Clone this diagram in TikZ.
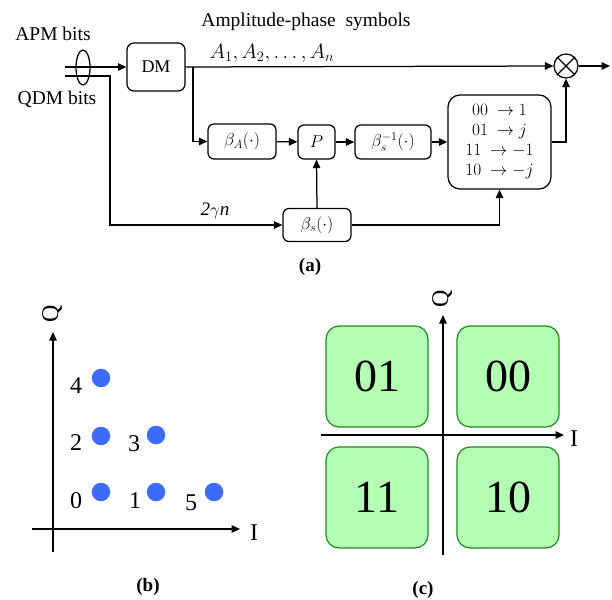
\documentclass[tikz,border=0pt]{standalone}
\usepackage{fontspec}
\setmainfont{Liberation Serif}
\usetikzlibrary{arrows.meta,shapes.geometric}
\definecolor{dotblue}{RGB}{59,107,255}
\definecolor{qfill}{RGB}{181,255,181}
\definecolor{qedge}{RGB}{26,140,26}
\tikzset{
  blk/.style={draw,rounded corners=6pt,line width=1.25pt,inner sep=0pt,font=\fontsize{18}{20}\selectfont},
  arr/.style={-{Triangle[length=8.5pt,width=7.5pt]},line width=1.25pt},
  ln/.style={line width=1.25pt},
  lbl/.style={font=\fontsize{19.5}{21}\selectfont,inner sep=0pt},
  dig/.style={font=\fontsize{24}{26}\selectfont,inner sep=0pt},
  qbox/.style={draw=qedge,fill=qfill,line width=1.2pt,rounded corners=13pt,minimum width=102pt,minimum height=101pt,inner sep=0pt,font=\fontsize{46}{48}\selectfont},
  dot/.style={circle,fill=dotblue,minimum size=18.5pt,inner sep=0pt},
  subcap/.style={font=\bfseries\fontsize{19}{21}\selectfont,inner sep=0pt},
}
\begin{document}
\begin{tikzpicture}[x=1pt,y=-1pt]
\useasboundingbox (0,0) rectangle (612,599);
% ---- (a) ----
\node[lbl] (apm) at (53,34) {APM bits};
\node[lbl] (qdm) at (57,99) {QDM bits};
\node[lbl] (amp) at (306,22) {Amplitude-phase\ \ symbols};
\node[blk,minimum width=58pt,minimum height=48pt,rounded corners=7pt] (dm) at (156,67) {DM};
\node[blk,minimum width=68pt,minimum height=35pt] (bA) at (242,141.5) {$\beta_A(\cdot)$};
\node[blk,minimum width=37pt,minimum height=34pt] (P) at (316.5,142) {$P$};
\node[blk,minimum width=76pt,minimum height=34pt] (bsi) at (393,142) {$\beta_s^{-1}(\cdot)$};
\node[blk,minimum width=103pt,minimum height=94pt,rounded corners=12pt,align=center,font=\fontsize{16.5}{20}\selectfont] (map) at (499.5,142)
  {$00\ \rightarrow 1$\\ $01\ \rightarrow j$\\ $11\ \rightarrow \mathbf{-}1$\\ $10\ \rightarrow \mathbf{-}j$};
\node[blk,minimum width=68pt,minimum height=33pt] (bs) at (317,225) {$\beta_s(\cdot)$};
\node[draw,circle,line width=1.25pt,minimum size=24pt,inner sep=0pt] (mult) at (566,66) {};
\draw[ln] (mult.45) -- (mult.225) (mult.135) -- (mult.315);
\node[font=\fontsize{19.5}{21}\selectfont,inner sep=0pt] (alab) at (272,53) {$A_1, A_2, \ldots, A_n$};
\node[font=\itshape\fontsize{19}{21}\selectfont,inner sep=0pt] (gam) at (215,211) {2$\gamma$n};
\node[subcap] (capa) at (310,267) {(a)};
\draw[line width=1.25pt] (83,67.5) ellipse [x radius=7, y radius=17.5];
\coordinate (apmIn) at (65,67);
\coordinate (qdmIn) at (65,76);
\coordinate (qbend) at (110,76);
\coordinate (br) at (193,67);
\coordinate (out) at (610,66);
\draw[arr] (apmIn) -- (dm.west);
\draw[arr] (qdmIn) -- (qbend) |- (bs.west);
\draw[arr] (dm.east) -- (mult.west);
\draw[arr] (br) |- (bA.west);
\draw[arr] (bA) -- (P);
\draw[arr] (P) -- (bsi);
\draw[arr] (bsi) -- (map);
\draw[arr] (bs.north) -- (P.south);
\draw[arr] (bs.east) -| (map.south);
\draw[arr] (map.east) -| (mult.south);
\draw[arr] (mult.east) -- (out);
% ---- (b) ----
\coordinate (bq0) at (53,552);
\coordinate (bq1) at (53,332);
\coordinate (bi0) at (32,529);
\coordinate (bi1) at (240,529);
\draw[arr] (bq0) -- (bq1);
\draw[arr] (bi0) -- (bi1);
\node[dig,rotate=90] (bQ) at (52,314) {Q};
\node[dig] (bI) at (254,533) {I};
\node[dot] (d4) at (101,378) {};
\node[dot] (d2) at (101,436) {};
\node[dot] (d3) at (156,435) {};
\node[dot] (d0) at (101,492) {};
\node[dot] (d1) at (156,492) {};
\node[dot] (d5) at (214,492) {};
\node[dig] (l4) at (76,386) {4};
\node[dig] (l2) at (76,443) {2};
\node[dig] (l3) at (134,444) {3};
\node[dig] (l0) at (76,501) {0};
\node[dig] (l1) at (135,501) {1};
\node[dig] (l5) at (191,503) {5};
\node[subcap] (capb) at (148,587) {(b)};
% ---- (c) ----
\node[qbox] (c01) at (377,376.5) {01};
\node[qbox] (c00) at (508,376.5) {00};
\node[qbox] (c11) at (377,497.5) {11};
\node[qbox] (c10) at (508,497.5) {10};
\coordinate (cq0) at (443,555);
\coordinate (cq1) at (443,315);
\coordinate (ci0) at (321,435);
\coordinate (ci1) at (564,435);
\draw[arr] (cq0) -- (cq1);
\draw[arr] (ci0) -- (ci1);
\node[dig,rotate=90] (cQ) at (442,299) {Q};
\node[dig] (cI) at (574,439) {I};
\node[subcap] (capc) at (423,590) {(c)};
\end{tikzpicture}
\end{document}
